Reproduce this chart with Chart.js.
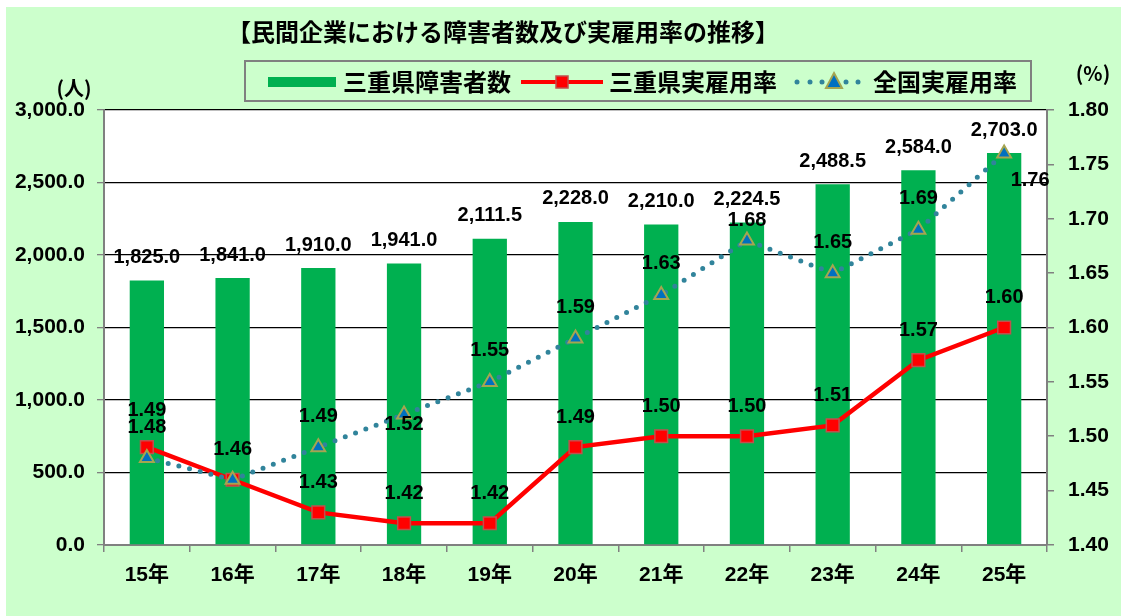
<!DOCTYPE html>
<html lang="ja">
<head>
<meta charset="utf-8">
<title>民間企業における障害者数及び実雇用率の推移</title>
<script src="https://cdn.jsdelivr.net/npm/chart.js@4.4.1/dist/chart.umd.min.js"></script>
<style>
  html, body { margin: 0; padding: 0; background: #fff; }
  #wrap { width: 1121px; height: 616px; }
</style>
</head>
<body>
<div id="wrap"><canvas id="employChart" width="1121" height="616"></canvas></div>
<script>
// data
const years = ['15年', '16年', '17年', '18年', '19年', '20年', '21年', '22年', '23年', '24年', '25年'];
const mieWorkers = [1825.0, 1841.0, 1910.0, 1941.0, 2111.5, 2228.0, 2210.0, 2224.5, 2488.5, 2584.0, 2703.0];
const mieRate = [1.49, 1.46, 1.43, 1.42, 1.42, 1.49, 1.50, 1.50, 1.51, 1.57, 1.60];
const nationalRate = [1.48, 1.46, 1.49, 1.52, 1.55, 1.59, 1.63, 1.68, 1.65, 1.69, 1.76];

const TITLE = '【民間企業における障害者数及び実雇用率の推移】';
const seriesNames = ['三重県障害者数', '三重県実雇用率', '全国実雇用率'];

const BG_GREEN = '#ccffcc';
const BAR_GREEN = '#00b050';
const RED = '#ff0000';
const TEAL = '#31849b';
const NUM_FONT = "bold 20px 'Liberation Sans', Arial, sans-serif";
const JP_FONT = "'Noto Sans CJK JP', 'Liberation Sans', sans-serif";

// background, title, legend box, unit labels
const framePlugin = {
  id: 'frame',
  beforeDraw(chart) {
    const { ctx, chartArea: a } = chart;
    ctx.save();
    ctx.fillStyle = '#ffffff';
    ctx.fillRect(0, 0, chart.width, chart.height);
    ctx.fillStyle = BG_GREEN;
    ctx.fillRect(6, 7, chart.width - 6, chart.height - 7);
    ctx.fillStyle = '#ffffff';
    ctx.fillRect(a.left, a.top, a.right - a.left, a.bottom - a.top);
    ctx.restore();
  },
  afterDraw(chart) {
    const { ctx } = chart;
    ctx.save();
    ctx.fillStyle = '#000';
    ctx.textBaseline = 'middle';

    // title
    ctx.font = 'bold 24px ' + JP_FONT;
    ctx.textAlign = 'center';
    ctx.fillText(TITLE, 503, 32);

    // unit labels
    ctx.font = 'bold 20px ' + JP_FONT;
    ctx.fillText('(人)', 74, 88);
    ctx.fillText('(%)', 1093, 73);

    // legend box
    ctx.fillStyle = BG_GREEN;
    ctx.fillRect(245, 61, 786, 40);
    ctx.strokeStyle = '#808080';
    ctx.lineWidth = 2;
    ctx.strokeRect(245, 61, 786, 40);

    const ly = 82;
    ctx.font = 'bold 24px ' + JP_FONT;
    ctx.textAlign = 'left';

    // bars
    ctx.fillStyle = BAR_GREEN;
    ctx.fillRect(268, ly - 5, 68, 10);
    ctx.fillStyle = '#000';
    ctx.fillText(seriesNames[0], 343, ly);

    // red line
    ctx.strokeStyle = RED;
    ctx.lineWidth = 4;
    ctx.beginPath();
    ctx.moveTo(521, ly);
    ctx.lineTo(603, ly);
    ctx.stroke();
    ctx.fillStyle = RED;
    ctx.fillRect(556, ly - 6, 12, 12);
    ctx.strokeStyle = '#c0504d';
    ctx.lineWidth = 1.5;
    ctx.strokeRect(556, ly - 6, 12, 12);
    ctx.fillStyle = '#000';
    ctx.fillText(seriesNames[1], 609, ly);

    // dotted line
    ctx.fillStyle = TEAL;
    [797, 810, 822, 846, 858].forEach(x => {
      ctx.beginPath();
      ctx.arc(x, ly, 2.5, 0, Math.PI * 2);
      ctx.fill();
    });
    ctx.beginPath();
    ctx.moveTo(834, ly - 9);
    ctx.lineTo(842, ly + 6);
    ctx.lineTo(826, ly + 6);
    ctx.closePath();
    ctx.fillStyle = '#0070c0';
    ctx.fill();
    ctx.strokeStyle = '#a5a550';
    ctx.lineWidth = 2;
    ctx.stroke();
    ctx.fillStyle = '#000';
    ctx.fillText(seriesNames[2], 873, ly);

    ctx.restore();
  }
};

// value labels (no datalabels plugin available)
const labelPlugin = {
  id: 'valueLabels',
  afterDatasetsDraw(chart) {
    const { ctx } = chart;
    ctx.save();
    ctx.font = NUM_FONT;
    ctx.fillStyle = '#000';
    ctx.textAlign = 'center';
    ctx.textBaseline = 'middle';

    // bars
    chart.getDatasetMeta(2).data.forEach((bar, i) => {
      const txt = mieWorkers[i].toLocaleString('en-US', { minimumFractionDigits: 1, maximumFractionDigits: 1 });
      ctx.fillText(txt, bar.x, bar.y - 23);
    });

    // 三重県
    chart.getDatasetMeta(1).data.forEach((pt, i) => {
      const dy = i === 0 ? -37 : -30;
      ctx.fillText(mieRate[i].toFixed(2), pt.x, pt.y + dy);
    });

    // 全国 (same value as 三重県 -> label already drawn there)
    chart.getDatasetMeta(0).data.forEach((pt, i) => {
      if (nationalRate[i] === mieRate[i]) return;
      let dx = 0, dy = -31;
      if (i === 3) dy = 10;
      if (i === 7) dy = -20;
      if (i === 10) { dx = 26; dy = 27; }
      ctx.fillText(nationalRate[i].toFixed(2), pt.x + dx, pt.y + dy);
    });
    ctx.restore();
  }
};

new Chart(document.getElementById('employChart'), {
  data: {
    labels: years,
    datasets: [
      {
        type: 'line',
        label: seriesNames[2],
        data: nationalRate,
        yAxisID: 'yRate',
        order: 0,
        borderColor: TEAL,
        borderWidth: 5,
        borderDash: [0, 11],
        borderCapStyle: 'round',
        tension: 0,
        pointStyle: 'triangle',
        pointRadius: 8,
        pointBackgroundColor: '#0070c0',
        pointBorderColor: '#a5a550',
        pointBorderWidth: 2
      },
      {
        type: 'line',
        label: seriesNames[1],
        data: mieRate,
        yAxisID: 'yRate',
        order: 1,
        borderColor: RED,
        borderWidth: 4.5,
        tension: 0,
        pointStyle: 'rect',
        pointRadius: 9,
        pointBackgroundColor: RED,
        pointBorderColor: '#c0504d',
        pointBorderWidth: 1.5
      },
      {
        type: 'bar',
        label: seriesNames[0],
        data: mieWorkers,
        yAxisID: 'yCount',
        order: 2,
        backgroundColor: BAR_GREEN,
        borderWidth: 0,
        categoryPercentage: 1,
        barPercentage: 0.4
      }
    ]
  },
  options: {
    responsive: false,
    animation: false,
    layout: { padding: { top: 110, left: 0, right: 0, bottom: 0 } },
    plugins: {
      legend: { display: false },
      title: { display: false },
      tooltip: { enabled: false }
    },
    scales: {
      x: {
        grid: { drawOnChartArea: false, offset: true, tickColor: '#808080', tickLength: 7, lineWidth: 1.5 },
        border: { color: '#808080', width: 2 },
        ticks: {
          color: '#000',
          padding: 11,
          font: { family: "'Liberation Sans', Arial, 'Noto Sans CJK JP', sans-serif", size: 21, weight: 'bold' }
        },
        afterFit(scale) { scale.height = 71; }
      },
      yCount: {
        position: 'left',
        min: 0,
        max: 3000,
        grid: { color: '#000', lineWidth: 1.3, tickColor: '#808080', tickLength: 7 },
        border: { color: '#808080', width: 2 },
        ticks: {
          stepSize: 500,
          color: '#000',
          padding: 12,
          font: { family: "'Liberation Sans', Arial, sans-serif", size: 21, weight: 'bold' },
          callback: v => v.toLocaleString('en-US', { minimumFractionDigits: 1, maximumFractionDigits: 1 })
        },
        afterFit(scale) { scale.width = 104; }
      },
      yRate: {
        position: 'right',
        min: 1.4,
        max: 1.8,
        grid: { drawOnChartArea: false, tickColor: '#808080', tickLength: 7, lineWidth: 1.5 },
        border: { color: '#808080', width: 2 },
        ticks: {
          stepSize: 0.05,
          color: '#000',
          padding: 14,
          font: { family: "'Liberation Sans', Arial, sans-serif", size: 21, weight: 'bold' },
          callback: v => Number(v).toFixed(2)
        },
        afterFit(scale) { scale.width = 74; }
      }
    }
  },
  plugins: [framePlugin, labelPlugin]
});
</script>
</body>
</html>
